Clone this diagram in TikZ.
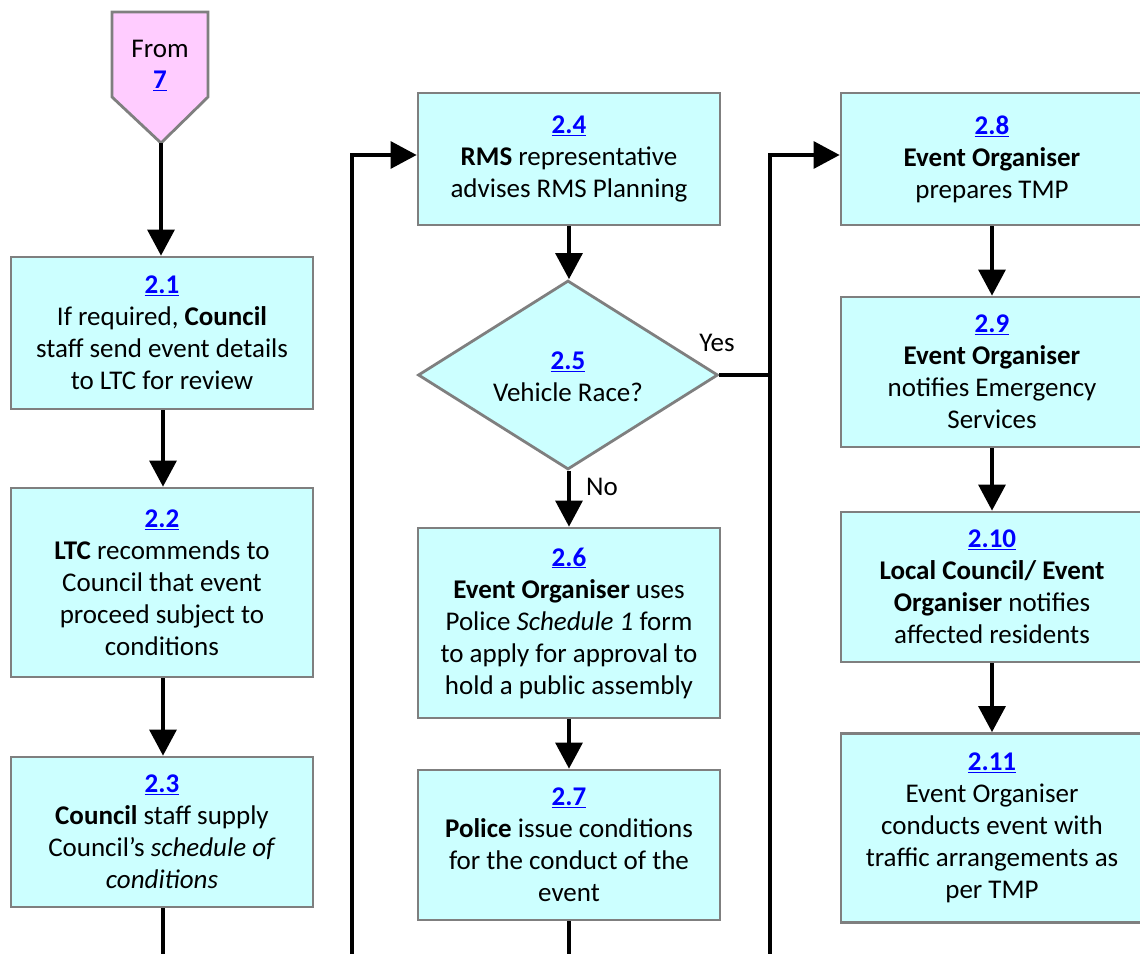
\documentclass[tikz,border=0pt]{standalone}
\usepackage{fontspec}
\setmainfont{Carlito}
\usetikzlibrary{arrows.meta,shapes.geometric}
\definecolor{boxfill}{HTML}{CCFFFF}
\definecolor{boxline}{HTML}{7F7F7F}
\definecolor{pinkfill}{HTML}{FFCCFF}
\definecolor{linkblue}{HTML}{0000FF}
\newcommand{\stepno}[1]{\textcolor{linkblue}{\underline{\textbf{#1}}}}
\tikzset{
  txt/.style={font=\fontsize{27}{32}\selectfont, align=center, inner sep=0pt},
  stepbox/.style={txt, draw=boxline, fill=boxfill, line width=2.8pt,
    minimum width=302pt},
  decision/.style={diamond, draw=boxline, fill=boxfill, line width=2.8pt,
    inner sep=0pt, minimum width=300pt, minimum height=189pt},
  flow/.style={line width=3.2pt, -{Triangle[width=27pt,length=26pt]}},
  plain/.style={line width=3.2pt}
}
\begin{document}
\begin{tikzpicture}[x=1pt,y=-1pt]
\useasboundingbox (0,0) rectangle (1140,953);

% off-page connector at the top
\draw[draw=boxline, fill=pinkfill, line width=2.8pt]
  (112,12) -- (208,12) -- (208,97) -- (161,143) -- (112,97) -- cycle;
\coordinate (ptip) at (161,143);
\node[txt] (from) at (160,49) {From};
\node[txt] (fromno) at (160,81) {\stepno{7}};

% column 1
\node[stepbox, minimum height=152pt] (b21) at (162,333)
  {\stepno{2.1}\\If required, \textbf{Council}\\staff send event details\\to LTC for review};
\node[stepbox, minimum height=189pt] (b22) at (162,582.5)
  {\stepno{2.2}\\\textbf{LTC} recommends to\\Council that event\\proceed subject to\\conditions};
\node[stepbox, minimum height=150pt] (b23) at (162,832)
  {\stepno{2.3}\\\textbf{Council} staff supply\\Council’s \textit{schedule of}\\\textit{conditions}};

% column 2
\node[stepbox, minimum height=132pt] (b24) at (569,159)
  {\stepno{2.4}\\\textbf{RMS} representative\\advises RMS Planning};
\node[decision] (d25) at (568,375) {};
\node[txt] (d25t) at (568,377) {\stepno{2.5}\\Vehicle Race?};
\node[stepbox, minimum height=190pt] (b26) at (569,623)
  {\stepno{2.6}\\\textbf{Event Organiser} uses\\Police \textit{Schedule 1} form\\to apply for approval to\\hold a public assembly};
\node[stepbox, minimum height=150pt] (b27) at (569,845)
  {\stepno{2.7}\\\textbf{Police} issue conditions\\for the conduct of the\\event};

% column 3
\node[stepbox, minimum height=132pt] (b28) at (992,159)
  {\stepno{2.8}\\\textbf{Event Organiser}\\prepares TMP};
\node[stepbox, minimum height=150pt] (b29) at (992,372)
  {\stepno{2.9}\\\textbf{Event Organiser}\\notifies Emergency\\Services};
\node[stepbox, minimum height=150pt] (b210) at (992,587)
  {\stepno{2.10}\\\textbf{Local Council/ Event}\\\textbf{Organiser} notifies\\affected residents};
\node[stepbox, minimum height=189pt] (b211) at (992,828)
  {\stepno{2.11}\\Event Organiser\\conducts event with\\traffic arrangements as\\per TMP};

% branch labels
\node[txt] (yes) at (717,343) {Yes};
\node[txt] (no) at (602,487) {No};

% routing points
\coordinate (c1end) at (163,960);
\coordinate (l2bot) at (352,960);
\coordinate (l2top) at (352,155);
\coordinate (c2end) at (569,960);
\coordinate (l3bot) at (770,960);
\coordinate (l3top) at (770,155);
\coordinate (l3mid) at (770,375);

% column 1 flow
\draw[flow] (ptip) -- (ptip |- b21.north);
\draw[flow] (b21.south -| c1end) -- (b22.north -| c1end);
\draw[flow] (b22.south -| c1end) -- (b23.north -| c1end);
\draw[plain] (b23.south -| c1end) -- (c1end);

% column 2 flow
\draw[flow] (l2bot) -- (l2top) -- (l2top -| b24.west);
\draw[flow] (b24.south -| c2end) -- (d25.north -| c2end);
\draw[flow] (d25.south -| c2end) -- (b26.north -| c2end);
\draw[flow] (b26.south) -- (b27.north);
\draw[plain] (b27.south) -- (c2end);

% column 3 flow
\draw[plain] (d25.east) -- (l3mid);
\draw[flow] (l3bot) -- (l3top) -- (l3top -| b28.west);
\draw[flow] (b28.south) -- (b29.north);
\draw[flow] (b29.south) -- (b210.north);
\draw[flow] (b210.south) -- (b211.north);
\end{tikzpicture}
\end{document}
